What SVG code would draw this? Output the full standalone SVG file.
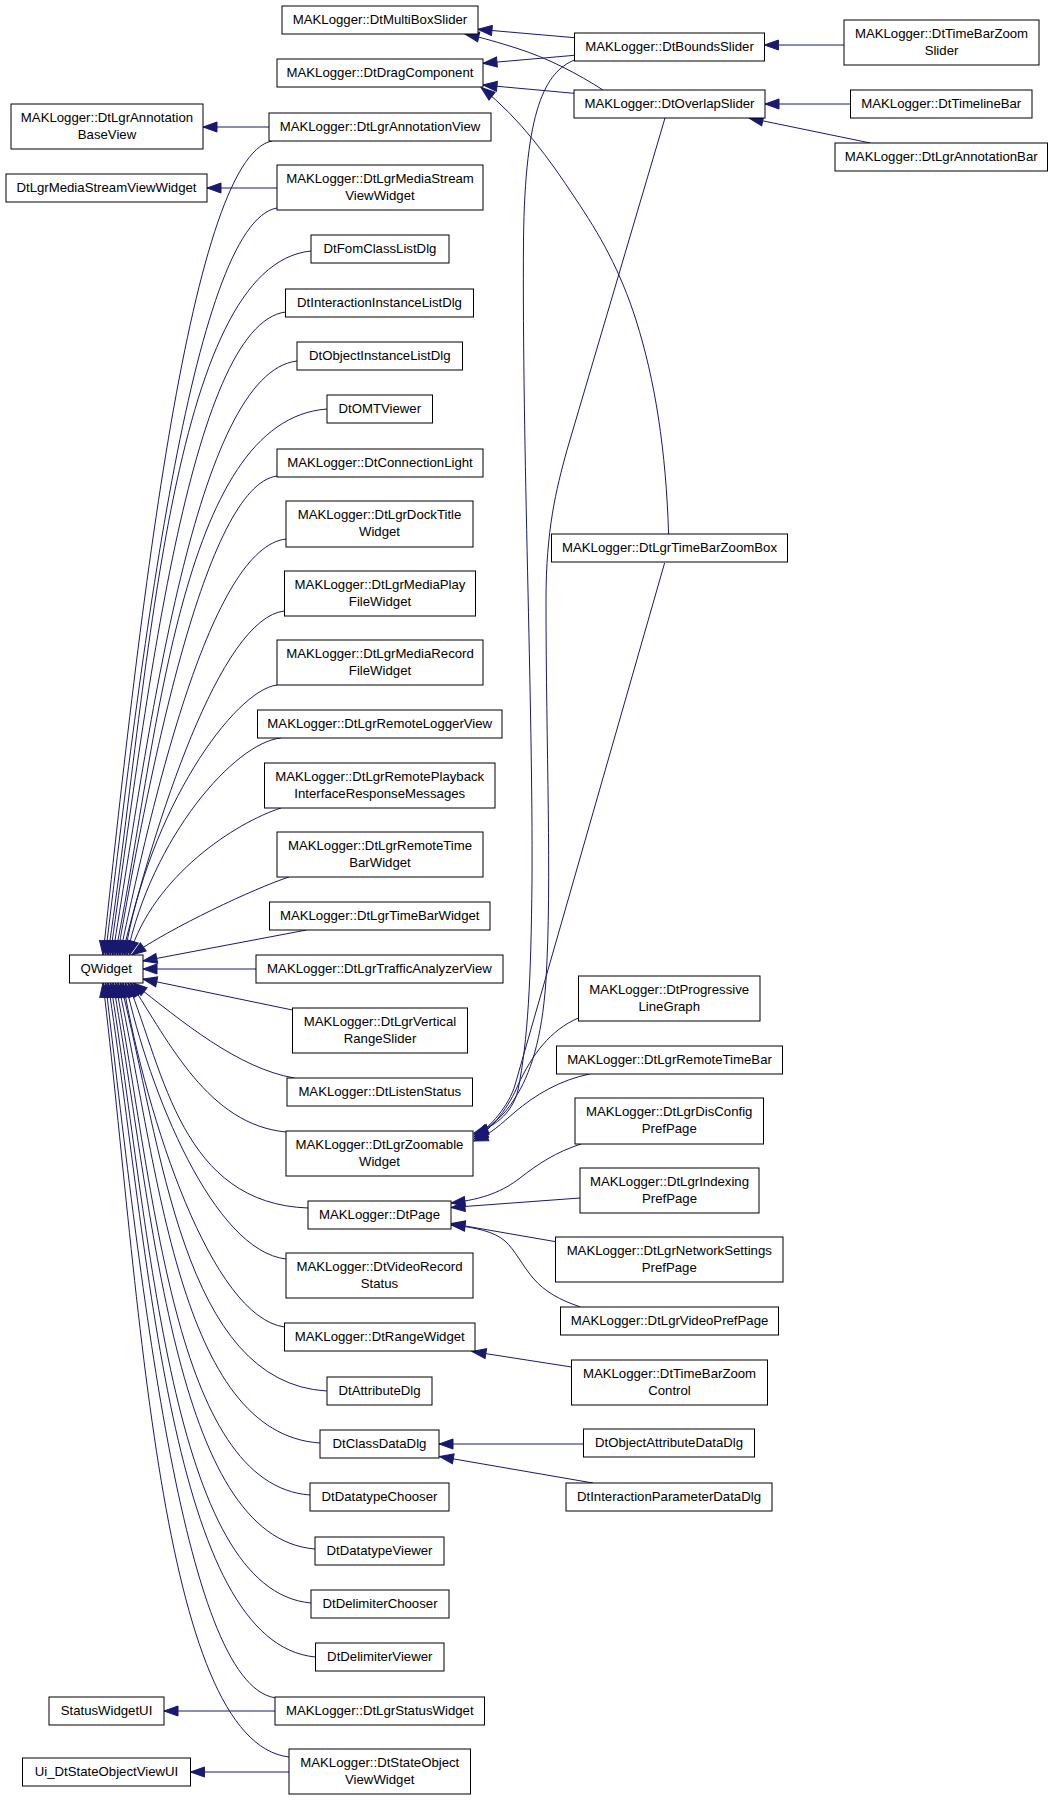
<svg xmlns="http://www.w3.org/2000/svg" width="1053" height="1800" viewBox="0 0 1053 1800">
<style>
.n rect{fill:#fff;stroke:#000;stroke-width:1}
.n text{font-family:"Liberation Sans",Arial,Helvetica,sans-serif;font-size:13.2px;text-anchor:middle;fill:#000}
.e path{fill:none;stroke:#191970;stroke-width:1;marker-end:url(#ah)}
</style>
<defs>
<marker id="ah" markerUnits="userSpaceOnUse" viewBox="-1 -1 16 12" markerWidth="16" markerHeight="12" refX="14" refY="5" orient="auto">
<path d="M0,0 L14,5 L0,10 z" fill="#191970" stroke="#191970" stroke-width="1"/>
</marker>
</defs>
<rect width="1053" height="1800" fill="#fff"/>
<g id="edges" class="e">
<!-- QWidget upper -->
<path d="M272,141 C187.5,157.3 136.8,645.7 103,955"/>
<path d="M277,208 C191.2,222.9 139.7,671.1 105.4,955"/>
<path d="M311,251 C168.8,265.1 148.4,687.5 107.8,955"/>
<path d="M285.5,312 C189.1,324.9 145.3,710.7 110.2,955"/>
<path d="M297,361 C195.6,372.9 149.5,729.3 112.6,955"/>
<path d="M327,409 C178.6,419.9 157.4,747.5 115,955"/>
<path d="M277,476 C205.2,485.6 149.3,773 117.4,955"/>
<path d="M286,539 C211.2,547.3 153,796.9 119.8,955"/>
<path d="M284.5,611 C219.6,617.9 154.7,824.3 122.2,955"/>
<path d="M277,685 C234.3,690.4 149,809.2 124.6,955"/>
<path d="M281,738 C234.8,742.3 151.6,837.8 127,955"/>
<path d="M281,808 C235.5,822.7 153.7,875.6 129.4,955"/>
<path d="M289,877 C255,888 170,928 131.8,955"/>
<path d="M306.5,930 L143,961"/>
<path d="M256,969 L143,969"/>
<path d="M292.4,1010 L143,979"/>
<!-- QWidget lower -->
<path d="M294.4,1078 C237.9,1068.5 181.4,1021 133,983"/>
<path d="M286,1132 C208.3,1124.6 169.4,1042.6 130.5,983"/>
<path d="M308,1208 C182,1203.5 164,1073 128,983"/>
<path d="M286,1259 C213.8,1250.7 149.6,1093.4 125.5,983"/>
<path d="M284.4,1327 C211.8,1316.7 147.2,1120.6 123,983"/>
<path d="M326.8,1391 C182.4,1382.8 161.8,1146.2 120.5,983"/>
<path d="M320,1443 C178.6,1433.8 158.4,1167 118,983"/>
<path d="M310,1495 C173.9,1484.8 154.4,1187.8 115.5,983"/>
<path d="M315,1549 C173.6,1537.7 153.4,1209.4 113,983"/>
<path d="M311,1603 C170.7,1590.6 150.6,1231 110.5,983"/>
<path d="M315.4,1657 C170.2,1643.5 149.5,1252.6 108,983"/>
<path d="M274.8,1697.7 C181.7,1683.4 139.4,1268.9 105.5,983"/>
<path d="M289,1757 C158.8,1741.5 140.2,1292.6 103,983"/>
<!-- left horizontals -->
<path d="M269,127 L203,127"/>
<path d="M277,188 L207,188"/>
<path d="M275,1711 L164,1711"/>
<path d="M289,1772 L190.5,1772"/>
<!-- top right -->
<path d="M574.5,37.7 L478,29.3"/>
<path d="M574.5,55.3 L483,63.3"/>
<path d="M603,90 C578,74 548,58 516,48 C500,43 484,38 465,34"/>
<path d="M574,93.3 L483,85"/>
<path d="M668.6,534 C666,450 655,380 636,320 C620,270 600,235 575,198 C550,160 520,118 481,87.5"/>
<path d="M844,45 L764.5,45"/>
<path d="M850.5,104 L765,104"/>
<path d="M870.3,143 L749,118"/>
<!-- to Zoomable -->
<path d="M574.5,60 C545,72 525,110 523.5,240 C522,450 533,700 532,880 C531,980 528,1040 518,1090 C512,1115 492,1128 474,1133"/>
<path d="M665,118 L567,450 C556,490 546,530 546,600 C546,750 552,880 546,980 C542,1040 530,1075 515,1098 C505,1115 490,1128 474,1135"/>
<path d="M664.6,563 L515,1085 C509.3,1105 490,1128 474,1137"/>
<path d="M578.5,1018 C550,1030 532,1055 518,1085 C510,1105 492,1130 474,1139"/>
<path d="M589.7,1074 C560,1080 535,1095 515,1112 C502,1123 490,1135 474,1141"/>
<!-- to DtPage -->
<path d="M581,1144 C556,1152 538,1164 520,1178 C503,1191 485,1199 451,1203"/>
<path d="M580,1198 L451,1207.5"/>
<path d="M555.7,1241.7 L451,1223.5"/>
<path d="M580.5,1307 C560,1300 545,1292 533,1278 C522,1265 515,1250 505,1241 C495,1232 475,1227 451,1225"/>
<!-- to RangeWidget / ClassDataDlg -->
<path d="M571.5,1367 L472,1351.5"/>
<path d="M583.5,1444 L439,1444"/>
<path d="M593,1483 L439.5,1456.5"/>
</g>
<g id="node-annbase" class="n"><rect x="11" y="104" width="192" height="45"/><text x="107" y="121.5">MAKLogger::DtLgrAnnotation</text><text x="107" y="139">BaseView</text></g>
<g id="node-msvwbase" class="n"><rect x="6" y="174" width="201" height="28"/><text x="106.5" y="191.5">DtLgrMediaStreamViewWidget</text></g>
<g id="node-qwidget" class="n"><rect x="69.5" y="955" width="73.5" height="28"/><text x="106.25" y="972.5">QWidget</text></g>
<g id="node-statusui" class="n"><rect x="49" y="1697" width="115" height="28"/><text x="106.5" y="1714.5">StatusWidgetUI</text></g>
<g id="node-uistate" class="n"><rect x="22.5" y="1758" width="168" height="28"/><text x="106.5" y="1775.5">Ui_DtStateObjectViewUI</text></g>
<g id="node-multibox" class="n"><rect x="282" y="6" width="196" height="28"/><text x="380" y="23.5">MAKLogger::DtMultiBoxSlider</text></g>
<g id="node-drag" class="n"><rect x="277" y="59" width="206" height="28"/><text x="380" y="76.5">MAKLogger::DtDragComponent</text></g>
<g id="node-annview" class="n"><rect x="269" y="113" width="222" height="28"/><text x="380" y="130.5">MAKLogger::DtLgrAnnotationView</text></g>
<g id="node-msvw" class="n"><rect x="277" y="165" width="206" height="45"/><text x="380" y="182.5">MAKLogger::DtLgrMediaStream</text><text x="380" y="200">ViewWidget</text></g>
<g id="node-fom" class="n"><rect x="311" y="235" width="138" height="28"/><text x="380" y="252.5">DtFomClassListDlg</text></g>
<g id="node-iil" class="n"><rect x="285.5" y="289" width="188" height="28"/><text x="379.5" y="306.5">DtInteractionInstanceListDlg</text></g>
<g id="node-oil" class="n"><rect x="297" y="342" width="165.5" height="28"/><text x="379.75" y="359.5">DtObjectInstanceListDlg</text></g>
<g id="node-omt" class="n"><rect x="327" y="395" width="105.5" height="28"/><text x="379.75" y="412.5">DtOMTViewer</text></g>
<g id="node-connlight" class="n"><rect x="277" y="449" width="206" height="28"/><text x="380" y="466.5">MAKLogger::DtConnectionLight</text></g>
<g id="node-dock" class="n"><rect x="286" y="501" width="187" height="46"/><text x="379.5" y="518.5">MAKLogger::DtLgrDockTitle</text><text x="379.5" y="536">Widget</text></g>
<g id="node-mediaplay" class="n"><rect x="284.5" y="571" width="191" height="45"/><text x="380" y="588.5">MAKLogger::DtLgrMediaPlay</text><text x="380" y="606">FileWidget</text></g>
<g id="node-mediarec" class="n"><rect x="277" y="640" width="206" height="45"/><text x="380" y="657.5">MAKLogger::DtLgrMediaRecord</text><text x="380" y="675">FileWidget</text></g>
<g id="node-rlv" class="n"><rect x="257.5" y="710" width="244.5" height="28"/><text x="379.75" y="727.5">MAKLogger::DtLgrRemoteLoggerView</text></g>
<g id="node-rpb" class="n"><rect x="264.5" y="763" width="230.5" height="45"/><text x="379.75" y="780.5">MAKLogger::DtLgrRemotePlayback</text><text x="379.75" y="798">InterfaceResponseMessages</text></g>
<g id="node-rtbw" class="n"><rect x="277" y="832" width="206" height="45"/><text x="380" y="849.5">MAKLogger::DtLgrRemoteTime</text><text x="380" y="867">BarWidget</text></g>
<g id="node-tbw" class="n"><rect x="269.5" y="902" width="220.5" height="28"/><text x="379.75" y="919.5">MAKLogger::DtLgrTimeBarWidget</text></g>
<g id="node-traffic" class="n"><rect x="256" y="955" width="247" height="28"/><text x="379.5" y="972.5">MAKLogger::DtLgrTrafficAnalyzerView</text></g>
<g id="node-vrs" class="n"><rect x="292.5" y="1008" width="175" height="45"/><text x="380" y="1025.5">MAKLogger::DtLgrVertical</text><text x="380" y="1043">RangeSlider</text></g>
<g id="node-listen" class="n"><rect x="287" y="1078" width="185.5" height="28"/><text x="379.75" y="1095.5">MAKLogger::DtListenStatus</text></g>
<g id="node-zoomable" class="n"><rect x="286" y="1131" width="187" height="45"/><text x="379.5" y="1148.5">MAKLogger::DtLgrZoomable</text><text x="379.5" y="1166">Widget</text></g>
<g id="node-page" class="n"><rect x="308" y="1201" width="143" height="28"/><text x="379.5" y="1218.5">MAKLogger::DtPage</text></g>
<g id="node-videorec" class="n"><rect x="286" y="1253" width="187" height="45"/><text x="379.5" y="1270.5">MAKLogger::DtVideoRecord</text><text x="379.5" y="1288">Status</text></g>
<g id="node-range" class="n"><rect x="284.5" y="1323" width="190.5" height="28"/><text x="379.75" y="1340.5">MAKLogger::DtRangeWidget</text></g>
<g id="node-attr" class="n"><rect x="327" y="1377" width="105" height="28"/><text x="379.5" y="1394.5">DtAttributeDlg</text></g>
<g id="node-classdata" class="n"><rect x="320" y="1430" width="119" height="28"/><text x="379.5" y="1447.5">DtClassDataDlg</text></g>
<g id="node-dtchooser" class="n"><rect x="310" y="1483" width="139" height="28"/><text x="379.5" y="1500.5">DtDatatypeChooser</text></g>
<g id="node-dtviewer" class="n"><rect x="315" y="1537" width="129" height="28"/><text x="379.5" y="1554.5">DtDatatypeViewer</text></g>
<g id="node-delimc" class="n"><rect x="311" y="1590" width="138" height="28"/><text x="380" y="1607.5">DtDelimiterChooser</text></g>
<g id="node-delimv" class="n"><rect x="315.5" y="1643" width="128.5" height="28"/><text x="379.75" y="1660.5">DtDelimiterViewer</text></g>
<g id="node-status" class="n"><rect x="275" y="1697" width="209.5" height="28"/><text x="379.75" y="1714.5">MAKLogger::DtLgrStatusWidget</text></g>
<g id="node-stateobj" class="n"><rect x="289" y="1749" width="181.5" height="45"/><text x="379.75" y="1766.5">MAKLogger::DtStateObject</text><text x="379.75" y="1784">ViewWidget</text></g>
<g id="node-bounds" class="n"><rect x="574.5" y="33" width="190" height="28"/><text x="669.5" y="50.5">MAKLogger::DtBoundsSlider</text></g>
<g id="node-overlap" class="n"><rect x="574" y="90" width="191" height="28"/><text x="669.5" y="107.5">MAKLogger::DtOverlapSlider</text></g>
<g id="node-zoombox" class="n"><rect x="551.5" y="534" width="236" height="28"/><text x="669.5" y="551.5">MAKLogger::DtLgrTimeBarZoomBox</text></g>
<g id="node-progress" class="n"><rect x="578.5" y="976" width="181.5" height="45"/><text x="669.25" y="993.5">MAKLogger::DtProgressive</text><text x="669.25" y="1011">LineGraph</text></g>
<g id="node-rtb" class="n"><rect x="556.5" y="1046" width="226" height="28"/><text x="669.5" y="1063.5">MAKLogger::DtLgrRemoteTimeBar</text></g>
<g id="node-disconfig" class="n"><rect x="575" y="1098" width="188.5" height="46"/><text x="669.25" y="1115.5">MAKLogger::DtLgrDisConfig</text><text x="669.25" y="1133">PrefPage</text></g>
<g id="node-indexing" class="n"><rect x="580" y="1168" width="179" height="45"/><text x="669.5" y="1185.5">MAKLogger::DtLgrIndexing</text><text x="669.5" y="1203">PrefPage</text></g>
<g id="node-network" class="n"><rect x="555.5" y="1237" width="227.5" height="45"/><text x="669.25" y="1254.5">MAKLogger::DtLgrNetworkSettings</text><text x="669.25" y="1272">PrefPage</text></g>
<g id="node-videopref" class="n"><rect x="560.5" y="1307" width="218" height="28"/><text x="669.5" y="1324.5">MAKLogger::DtLgrVideoPrefPage</text></g>
<g id="node-tbzcontrol" class="n"><rect x="571.5" y="1360" width="196" height="45"/><text x="669.5" y="1377.5">MAKLogger::DtTimeBarZoom</text><text x="669.5" y="1395">Control</text></g>
<g id="node-objattr" class="n"><rect x="583.5" y="1429" width="171" height="28"/><text x="669" y="1446.5">DtObjectAttributeDataDlg</text></g>
<g id="node-interparam" class="n"><rect x="566" y="1483" width="206" height="28"/><text x="669" y="1500.5">DtInteractionParameterDataDlg</text></g>
<g id="node-tbzslider" class="n"><rect x="844" y="20" width="195" height="45"/><text x="941.5" y="37.5">MAKLogger::DtTimeBarZoom</text><text x="941.5" y="55">Slider</text></g>
<g id="node-timeline" class="n"><rect x="850.5" y="90" width="181.5" height="28"/><text x="941.25" y="107.5">MAKLogger::DtTimelineBar</text></g>
<g id="node-annbar" class="n"><rect x="835" y="143" width="212.5" height="28"/><text x="941.25" y="160.5">MAKLogger::DtLgrAnnotationBar</text></g>
</svg>
